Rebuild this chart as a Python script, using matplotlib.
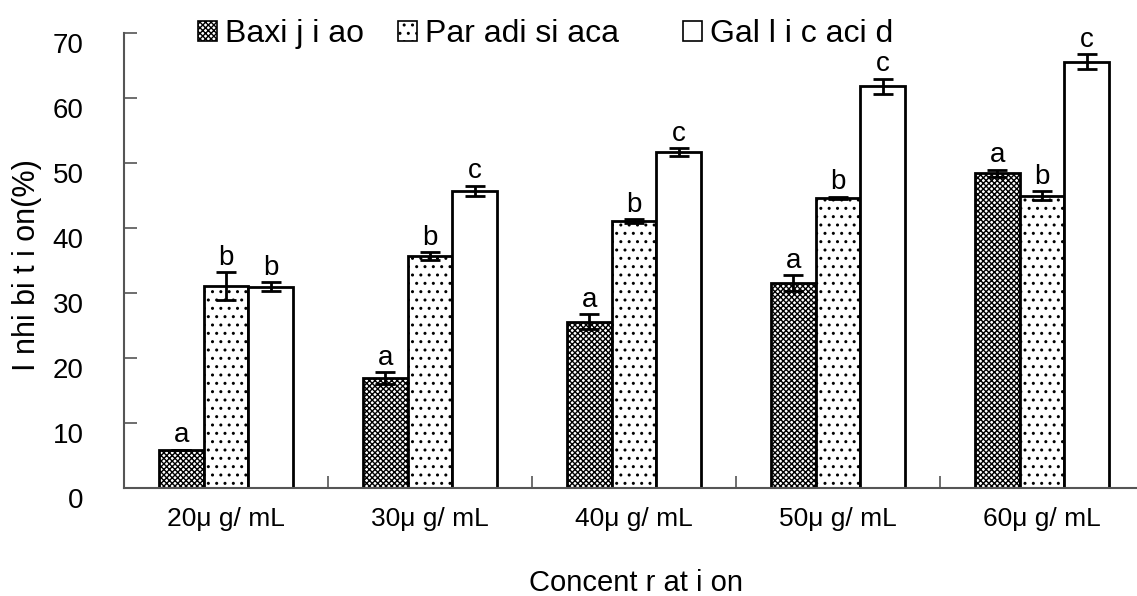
import numpy as np
import matplotlib
matplotlib.use('Agg')
import matplotlib.pyplot as plt
from matplotlib.patches import Patch

# data
concs = ['20μ g/ mL', '30μ g/ mL', '40μ g/ mL', '50μ g/ mL', '60μ g/ mL']
series = ['Baxi j i ao', 'Par adi si aca', 'Gal l i c aci d']
baxijiao = [5.9, 16.9, 25.6, 31.5, 48.4]
baxijiao_err = [0.0, 0.9, 1.1, 1.2, 0.6]
paradisiaca = [31.1, 35.7, 41.1, 44.6, 45.0]
paradisiaca_err = [2.1, 0.6, 0.3, 0.2, 0.7]
gallic = [31.0, 45.7, 51.7, 61.8, 65.6]
gallic_err = [0.7, 0.8, 0.6, 1.2, 1.1]
letters = [['a', 'a', 'a', 'a', 'a'],
           ['b', 'b', 'b', 'b', 'b'],
           ['b', 'c', 'c', 'c', 'c']]

plt.rcParams['font.family'] = ['Liberation Sans', 'DejaVu Sans']
plt.rcParams['hatch.linewidth'] = 1.0

fig = plt.figure(figsize=(11.37, 5.96), dpi=100)
ax = fig.add_axes([124 / 1137, 108 / 596, 1013 / 1137, 455 / 596])

x = np.arange(len(concs))
w = 0.22
styles = [dict(facecolor='white', hatch='xxxxxx'),
          dict(facecolor='white', hatch='..'),
          dict(facecolor='white', hatch=None)]
vals = [baxijiao, paradisiaca, gallic]
errs = [baxijiao_err, paradisiaca_err, gallic_err]

for i in range(3):
    pos = x + (i - 1) * w
    ax.bar(pos, vals[i], w, edgecolor='black', linewidth=2, zorder=2, **styles[i])
    ax.errorbar(pos, vals[i], yerr=errs[i], fmt='none', ecolor='black',
                elinewidth=2, capsize=7, capthick=2, zorder=3)
    for p, v, e, lab in zip(pos, vals[i], errs[i], letters[i]):
        ax.text(p, v + e + 0.2, lab, ha='center', va='bottom', fontsize=20)

ax.set_xlim(-0.5, 4.466)
ax.set_ylim(0, 70)
ax.set_yticks(range(0, 71, 10))
ax.set_xticks(x)
ax.set_xticklabels(concs, fontsize=19)
ax.set_xticks(np.arange(0.5, 4.5, 1), minor=True)
ax.tick_params(axis='x', which='major', length=0, pad=14)
ax.tick_params(axis='x', which='minor', direction='in', length=9, width=1.2, color='#555555')
ax.tick_params(axis='y', direction='in', length=9, width=1.2, color='#555555', labelsize=20, pad=29)
for lbl in ax.get_yticklabels():
    lbl.set_va('top')

for s in ['top', 'right']:
    ax.spines[s].set_visible(False)
for s in ['left', 'bottom']:
    ax.spines[s].set_color('#555555')
    ax.spines[s].set_linewidth(1.5)

ax.set_ylabel('I nhi bi t i on(%)', fontsize=22, va='center')
ax.yaxis.set_label_coords(-97 / 1013, 0.49)
ax.set_xlabel('Concent r at i on', fontsize=21, va='center')
ax.xaxis.set_label_coords(512 / 1013, -95 / 455)

# legend entries spread along the top like the original
leg_x = [198, 398, 683]
for i in range(3):
    h = Patch(edgecolor='black', linewidth=1.2, **styles[i])
    fig.legend([h], [series[i]], loc='center left',
               bbox_to_anchor=(leg_x[i] / 1137, 1 - 34 / 596),
               frameon=False, fontsize=23, handlelength=0.6, handleheight=0.6,
               handletextpad=0.25, borderpad=0, borderaxespad=0)

fig.savefig('out.png', dpi=100)
